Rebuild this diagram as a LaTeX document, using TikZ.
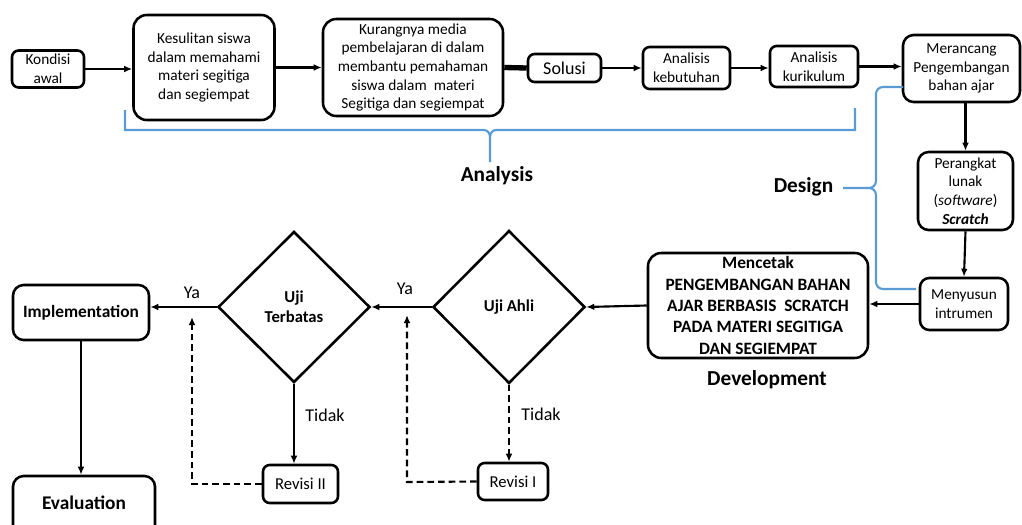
\documentclass[tikz,border=0pt]{standalone}
\usepackage{fontspec}
\setmainfont{Carlito}
\usetikzlibrary{arrows.meta,shapes.geometric}
\definecolor{bracecol}{RGB}{91,155,213}
\begin{document}
\begin{tikzpicture}[x=0.75pt,y=-0.75pt,
  box/.style={draw, line width=1.9pt, rounded corners=5pt, align=center, inner sep=1pt,
    font=\fontsize{11.5}{14}\selectfont},
  bigbox/.style={box, rounded corners=10pt},
  dia/.style={draw, diamond, line width=1.9pt, inner sep=0pt, align=center,
    font=\bfseries\fontsize{12.5}{15}\selectfont},
  arr/.style={-{Latex[length=6pt,width=5pt]}, line width=1.6pt},
  darr/.style={arr, dashed, dash pattern=on 5pt off 3pt},
  brace/.style={draw=bracecol, line width=1.6pt},
  phase/.style={font=\bfseries\fontsize{16}{19}\selectfont},
  lbl/.style={font=\fontsize{13.5}{16}\selectfont}
]
\useasboundingbox (0,0) rectangle (1022,525);
\clip (0,0) rectangle (1022,525);

% top row
\node[box, minimum width=54pt, minimum height=27.75pt] (kond) at (48,69) {Kondisi\\awal};
\node[bigbox, minimum width=105.75pt, minimum height=78.75pt] (kes) at (204,67.5)
  {Kesulitan siswa\\dalam memahami\\materi segitiga\\dan segiempat};
\node[bigbox, minimum width=135pt, minimum height=72.75pt] (kur) at (413,67.5)
  {Kurangnya media\\pembelajaran di dalam\\membantu pemahaman\\siswa dalam\ \ materi\\Segitiga dan segiempat};
\node[box, minimum width=54.75pt, minimum height=21pt, font=\fontsize{13.5}{16}\selectfont] (sol) at (564.5,68) {Solusi};
\node[box, minimum width=65.25pt, minimum height=31.5pt] (keb) at (686.5,68) {Analisis\\kebutuhan};
\node[box, minimum width=66pt, minimum height=30.75pt] (kurik) at (814,66.5) {Analisis\\kurikulum};
\node[bigbox, rounded corners=8pt, minimum width=87.75pt, minimum height=50.25pt] (mer) at (961.5,68.5)
  {Merancang\\Pengembangan\\bahan ajar};
\node[bigbox, rounded corners=8pt, minimum width=71.25pt, minimum height=58.5pt] (per) at (965.5,191)
  {Perangkat\\lunak\\(\textit{software})\\\textbf{\textit{Scratch}}};
\node[box, rounded corners=7pt, minimum width=66pt, minimum height=39pt] (men) at (964,304)
  {Menyusun\\intrumen};
\node[bigbox, minimum width=165pt, minimum height=78.75pt, font=\bfseries\fontsize{13}{16}\selectfont] (cet) at (758,305.5)
  {Mencetak\\PENGEMBANGAN BAHAN\\AJAR BERBASIS\ \ SCRATCH\\PADA MATERI SEGITIGA\\DAN SEGIEMPAT};

% diamonds
\node[dia, minimum width=114pt, minimum height=114.75pt] (ahli) at (509,307) {Uji Ahli};
\node[dia, minimum width=114pt, minimum height=113.25pt] (terb) at (294,307) {Uji\\Terbatas};

% revisions
\node[box, minimum width=56.25pt, minimum height=28.5pt, font=\fontsize{12.5}{15}\selectfont] (rev2) at (300.5,484) {Revisi II};
\node[box, minimum width=52.5pt, minimum height=27.75pt, font=\fontsize{12.5}{15}\selectfont] (rev1) at (513,481.5) {Revisi I};

% implementation / evaluation
\node[bigbox, rounded corners=8pt, minimum width=102pt, minimum height=41.25pt, font=\bfseries\fontsize{13}{16}\selectfont] (impl) at (81,312.5) {Implementation};
\node[bigbox, rounded corners=8pt, minimum width=106.5pt, minimum height=63pt] (ev) at (84,518) {};
\node[font=\bfseries\fontsize{14.5}{17}\selectfont] (evt) at (84,503) {Evaluation};

% connectors top row
\draw[arr] (kond.east) -- (kond.east -| kes.west);
\draw[arr] (kes.east) -- (kur.west);
\draw[line width=4pt] (kur.east) -- (sol.west);
\draw[arr] (sol.east) -- (keb.west);
\draw[arr] (keb.east) -- (keb.east -| kurik.west);
\draw[arr] (kurik.east) -- (kurik.east -| mer.west);
\draw[arr] (per.north |- mer.south) -- (per.north);
\draw[arr] (per.south) -- (men.north);
\draw[arr] (men.west) -- (men.west -| cet.east);
\draw[arr] (cet.west) -- (ahli.east);
\draw[arr] (ahli.west) -- (terb.east);
\draw[arr] (terb.west) -- (terb.west -| impl.east);
\draw[arr] (impl.south) -- (impl.south |- ev.north);
\draw[arr] (terb.south) -- (terb.south |- rev2.north);
\draw[darr] (ahli.south) -- (ahli.south |- rev1.north);
\coordinate (r2a) at (192,484);
\coordinate (r2b) at (192,317);
\coordinate (r1a) at (407,482);
\coordinate (r1b) at (407,315);
\draw[darr] (rev2.west) -- (r2a) -- (r2b);
\draw[darr] (rev1.west) -- (r1a) -- (r1b);

% labels
\node[lbl] (ya1) at (192,293) {Ya};
\node[lbl] (ya2) at (405,289) {Ya};
\node[lbl] (td1) at (325,415) {Tidak};
\node[lbl] (td2) at (541,414) {Tidak};

% phase braces
\draw[brace] (125,110) |- (484,130) to[out=0,in=90] (490,137) -- (490,162);
\draw[brace] (855,108) |- (496,130) to[out=180,in=90] (490,137);
\node[phase] (an) at (497,176) {Analysis};

\draw[brace] (903,87) -- (883,87) to[out=180,in=90] (876,94) -- (876,181) to[out=-90,in=0] (869,188) -- (843,188);
\draw[brace] (869,188) to[out=0,in=90] (876,195) -- (876,282) to[out=-90,in=180] (883,289) -- (916,289);
\node[phase, anchor=east] (des) at (838,187) {Design};

\node[phase] (dev) at (767,380) {Development};
\end{tikzpicture}
\end{document}
